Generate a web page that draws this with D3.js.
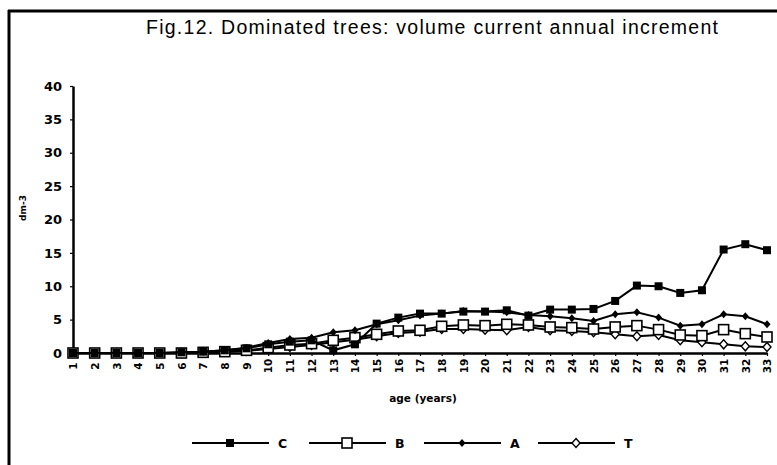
<!DOCTYPE html>
<html>
<head>
<meta charset="utf-8">
<script src="https://cdn.jsdelivr.net/npm/d3@7"></script>
<style>
  html, body { margin: 0; padding: 0; background: #fff; }
  svg { display: block; }
  text { fill: #000; }
</style>
</head>
<body>
<svg id="chart" width="777" height="465"></svg>
<script>
// Age classes (years) on the horizontal axis
const ages = d3.range(1, 34);

// Volume current annual increment per stand type (dm-3)
const seriesC = [0, 0, 0, 0, 0, 0.1, 0.2, 0.4, 0.7, 1.3, 1.7, 1.9, 0.4, 1.3, 4.4, 5.3, 5.9, 5.9, 6.2, 6.2, 6.4, 5.6, 6.5, 6.5, 6.6, 7.8, 10.1, 10.0, 9.0, 9.4, 15.5, 16.3, 15.4];
const seriesB = [0, 0, 0, 0, 0, 0, 0.1, 0.2, 0.4, 0.8, 1.2, 1.4, 1.9, 2.3, 2.8, 3.3, 3.4, 4.0, 4.2, 4.1, 4.3, 4.2, 3.9, 3.8, 3.6, 3.9, 4.1, 3.5, 2.7, 2.6, 3.5, 2.9, 2.4];
const seriesA = [0, 0, 0, 0, 0, 0.1, 0.2, 0.4, 0.8, 1.5, 2.1, 2.3, 3.1, 3.4, 4.3, 4.9, 5.6, 5.9, 6.3, 6.2, 6.1, 5.7, 5.5, 5.2, 4.8, 5.8, 6.1, 5.3, 4.1, 4.3, 5.8, 5.5, 4.3];
const seriesT = [0, 0, 0, 0, 0, 0, 0.1, 0.2, 0.3, 0.6, 0.9, 1.2, 1.6, 2.0, 2.5, 3.0, 3.2, 3.6, 3.6, 3.5, 3.4, 3.9, 3.4, 3.3, 3.1, 2.8, 2.5, 2.7, 1.9, 1.6, 1.3, 1.0, 0.9];

const yTicks = [0, 5, 10, 15, 20, 25, 30, 35, 40];
const seriesNames = ["C", "B", "A", "T"];

const titleText = "Fig.12. Dominated trees:  volume current annual increment";
const xTitle = "age (years)";
const yTitle = "dm-3";

const series = [
  { name: "C", values: seriesC, marker: "filledSquare" },
  { name: "B", values: seriesB, marker: "openSquare" },
  { name: "A", values: seriesA, marker: "filledDiamond" },
  { name: "T", values: seriesT, marker: "openDiamond" }
];

const boldFont = "'DejaVu Sans', Verdana, sans-serif";

const svg = d3.select("#chart");

// Outer frame (left and top edges)
svg.append("line").attr("x1", 9).attr("x2", 9).attr("y1", 10).attr("y2", 465)
  .attr("stroke", "#000").attr("stroke-width", 3);
svg.append("line").attr("x1", 8).attr("x2", 777).attr("y1", 11).attr("y2", 11)
  .attr("stroke", "#000").attr("stroke-width", 3);

// Title
svg.append("text")
  .attr("x", 146).attr("y", 34)
  .attr("textLength", 572)
  .attr("lengthAdjust", "spacing")
  .style("font-family", "'Liberation Sans', Arial, sans-serif")
  .style("font-size", "19.5px")
  .text(titleText);

const x = d3.scalePoint().domain(ages).range([73, 767]);
const y = d3.scaleLinear().domain([0, 40]).range([353, 86]);

// Y axis
const yAxis = svg.append("g")
  .attr("transform", "translate(73,0)")
  .call(d3.axisLeft(y).tickValues(yTicks).tickSize(3).tickSizeOuter(0).tickPadding(8));
yAxis.select(".domain").attr("stroke", "#000").attr("stroke-width", 2.5);
yAxis.selectAll(".tick line").attr("stroke", "#000").attr("stroke-width", 1.2);
yAxis.selectAll(".tick text")
  .style("font-family", boldFont)
  .style("font-weight", "bold")
  .style("font-size", "13px");

// X axis
const xAxis = svg.append("g")
  .attr("transform", "translate(0,353)")
  .call(d3.axisBottom(x).tickSize(3).tickSizeOuter(0));
xAxis.select(".domain").attr("stroke", "#000").attr("stroke-width", 2.5);
xAxis.selectAll(".tick line").attr("stroke", "#000").attr("stroke-width", 1.2);
xAxis.selectAll(".tick text")
  .attr("transform", "rotate(-90)")
  .attr("text-anchor", "middle")
  .attr("x", -13).attr("y", 0).attr("dy", "0.36em")
  .style("font-family", boldFont)
  .style("font-weight", "bold")
  .style("font-size", "10.5px");

// Axis titles
svg.append("text")
  .attr("x", 423).attr("y", 402)
  .attr("text-anchor", "middle")
  .style("font-family", boldFont)
  .style("font-weight", "bold")
  .style("font-size", "10.5px")
  .text(xTitle);

svg.append("text")
  .attr("transform", "translate(26,208) rotate(-90)")
  .attr("text-anchor", "middle")
  .style("font-family", boldFont)
  .style("font-weight", "bold")
  .style("font-size", "9px")
  .text(yTitle);

// Marker drawing
function drawMarker(g, type, cx, cy) {
  if (type === "filledSquare") {
    g.append("rect").attr("x", cx - 4).attr("y", cy - 4).attr("width", 8).attr("height", 8)
      .attr("fill", "#000");
  } else if (type === "openSquare") {
    g.append("rect").attr("x", cx - 5).attr("y", cy - 5).attr("width", 10).attr("height", 10)
      .attr("fill", "#fff").attr("stroke", "#000").attr("stroke-width", 1.6);
  } else if (type === "filledDiamond") {
    g.append("path").attr("d", `M${cx},${cy - 4}L${cx + 3.5},${cy}L${cx},${cy + 4}L${cx - 3.5},${cy}Z`)
      .attr("fill", "#000");
  } else {
    g.append("path").attr("d", `M${cx},${cy - 4.5}L${cx + 4},${cy}L${cx},${cy + 4.5}L${cx - 4},${cy}Z`)
      .attr("fill", "#fff").attr("stroke", "#000").attr("stroke-width", 1.4);
  }
}

const line = d3.line().x((d, i) => x(ages[i])).y(d => y(d));

// Draw series: bottom-most first so C lies on top
const drawOrder = ["T", "B", "A", "C"];
drawOrder.forEach(name => {
  const s = series.find(d => d.name === name);
  const g = svg.append("g");
  g.append("path").datum(s.values)
    .attr("d", line)
    .attr("fill", "none")
    .attr("stroke", "#000")
    .attr("stroke-width", 2);
  s.values.forEach((v, i) => drawMarker(g, s.marker, x(ages[i]), y(v)));
});

// Legend
const legendX = [192, 309, 424, 538];
const legend = svg.append("g");
series.forEach((s, i) => {
  const lx = legendX[i];
  const ly = 443;
  legend.append("line").attr("x1", lx).attr("x2", lx + 77).attr("y1", ly).attr("y2", ly)
    .attr("stroke", "#000").attr("stroke-width", 2);
  drawMarker(legend, s.marker, lx + 38, ly);
  legend.append("text")
    .attr("x", lx + 86).attr("y", ly + 5)
    .style("font-family", boldFont)
    .style("font-weight", "bold")
    .style("font-size", "12.5px")
    .text(seriesNames[i]);
});
</script>
</body>
</html>
